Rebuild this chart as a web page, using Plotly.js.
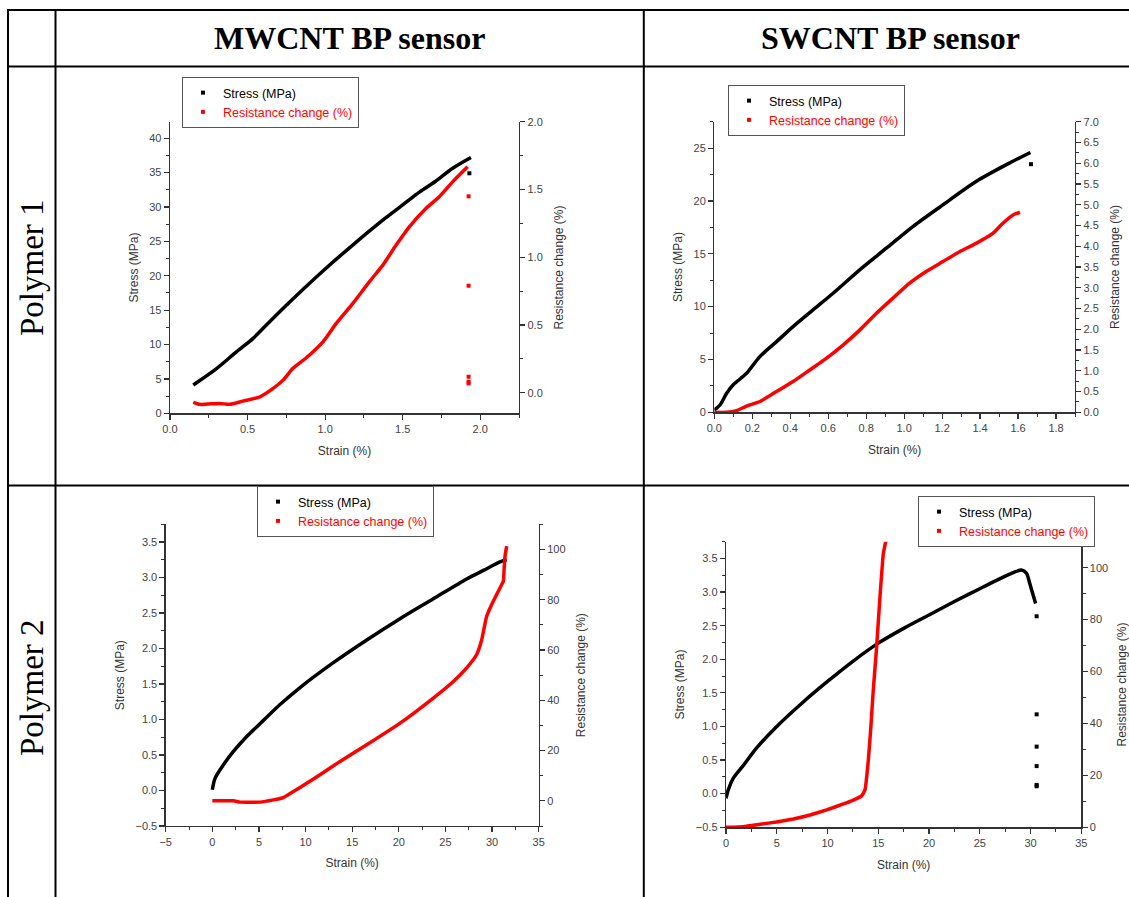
<!DOCTYPE html>
<html><head><meta charset="utf-8">
<script src="https://cdn.plot.ly/plotly-3.0.1.min.js"></script>
<style>html,body{margin:0;padding:0;background:#fff}#chart{width:1129px;height:897px}</style>
</head><body><div id="chart"></div>
<script>
// ---------- Column / row labels ----------
const columnLabels = ['MWCNT BP sensor', 'SWCNT BP sensor'];
const rowLabels = ['Polymer 1', 'Polymer 2'];
const seriesNames = ['Stress (MPa)', 'Resistance change (%)'];

// ---------- Panel 1: MWCNT, Polymer 1 ----------
const p1StressStrain = [0.15,0.30,0.43,0.536,0.62,0.75,0.857,0.986,1.18,1.39,1.50,1.61,1.71,1.82,1.94];
const p1Stress       = [4.12,6.5,8.97,10.9,12.8,15.7,18.0,20.7,24.5,28.4,30.3,32.2,33.7,35.6,37.2];
const p1StressOutStrain = [1.93];
const p1StressOut       = [34.9];
const p1ResStrain = [0.15,0.193,0.32,0.386,0.47,0.58,0.665,0.729,0.793,0.879,0.986,1.072,1.179,1.286,1.372,1.458,1.543,1.65,1.736,1.822,1.919];
const p1Res       = [-0.071,-0.086,-0.079,-0.086,-0.062,-0.03,0.032,0.093,0.18,0.258,0.376,0.512,0.66,0.82,0.942,1.09,1.225,1.36,1.447,1.557,1.668];
const p1ResOutStrain = [1.925,1.925,1.925,1.925,1.925];
const p1ResOut       = [1.45,0.79,0.118,0.081,0.069];

// ---------- Panel 2: SWCNT, Polymer 1 ----------
const p2StressStrain = [0,0.03,0.065,0.1,0.17,0.24,0.328,0.415,0.52,0.626,0.766,0.906,1.046,1.204,1.379,1.554,1.665];
const p2Stress       = [0.22,0.69,1.8,2.6,3.69,5.27,6.69,8.11,9.69,11.27,13.48,15.53,17.58,19.63,21.84,23.58,24.59];
const p2StressOutStrain = [1.668];
const p2StressOut       = [23.48];
const p2ResStrain = [0,0.065,0.117,0.17,0.24,0.328,0.415,0.503,0.59,0.678,0.766,0.853,0.941,1.029,1.116,1.204,1.292,1.379,1.467,1.519,1.572,1.61];
const p2Res       = [0,0,0.04,0.15,0.26,0.5,0.74,1.02,1.3,1.62,1.98,2.38,2.75,3.11,3.39,3.63,3.87,4.07,4.31,4.55,4.75,4.82];

// ---------- Panel 3: MWCNT, Polymer 2 ----------
const p3StressStrain = [0,0.29,1.18,2.26,3.69,5.12,7.26,9.41,12.98,16.56,20.13,23.7,27.28,29.07,30.85,31.57];
const p3Stress       = [0.01,0.17,0.36,0.55,0.76,0.94,1.21,1.45,1.8,2.12,2.42,2.7,2.98,3.1,3.22,3.25];
const p3ResStrain = [0,2.26,2.97,5.12,6.55,7.62,8.69,10.12,11.55,13.7,16.56,20.13,23.7,25.85,27.28,28.35,28.89,29.42,29.96,30.67,31.21,31.28,31.39,31.57];
const p3Res       = [0,0,-0.5,-0.5,0.4,1.33,3.7,7.0,10.4,15.7,22.3,30.9,40.9,47.5,52.9,58.2,64.1,73.4,78.1,83.4,87.4,91.4,97.3,101.3];

// ---------- Panel 4: SWCNT, Polymer 2 ----------
const p4StressStrain = [0,0.23,0.72,1.71,3.02,5,7.5,10,12.5,15,17.5,20,22.5,25,27,28.3,29.1,29.6,29.94,30.27,30.5];
const p4Stress       = [-0.07,0.06,0.23,0.42,0.68,1.0,1.35,1.67,1.97,2.24,2.46,2.66,2.86,3.05,3.2,3.29,3.33,3.28,3.12,2.95,2.83];
const p4StressOutStrain = [30.6,30.6,30.6,30.6,30.6,30.6];
const p4StressOut       = [2.64,1.18,0.70,0.41,0.13,0.11];
const p4ResStrain = [0,1.71,3.35,4.99,6.63,8.27,9.91,11.56,12.54,13.36,13.69,14.02,14.25,14.51,14.84,15.17,15.5,15.76];
const p4Res       = [0,0.26,1.16,2.05,3.2,4.75,6.68,8.99,10.5,12.1,14.4,25.9,37.5,52.9,69.6,88.8,105.5,110.6];

// ---------- Layout helpers ----------
const W = 1129, H = 897;
const px = v => v / W;
const py = v => 1 - v / H;
const FONT = 'Liberation Sans, Arial, sans-serif';
const SERIF = 'Liberation Serif, Times New Roman, serif';
const BLACK = '#000000', RED = '#ff0000';

function axis(extra) {
  return Object.assign({
    showline: true, linecolor: '#333', linewidth: 1.3,
    ticks: 'outside', ticklen: 5, tickwidth: 1.2, tickcolor: '#333',
    showgrid: false, zeroline: false, fixedrange: true,
    tickfont: {family: FONT, size: 11, color: '#444'},
    title: {font: {family: FONT, size: 12, color: '#333'}}
  }, extra);
}
function withMinor(a, d) {
  a.minor = {ticks: 'outside', ticklen: 3, tickwidth: 1, tickcolor: '#333', showgrid: false, dtick: d};
  return a;
}

function lineTrace(x, y, xa, ya, color, smooth) {
  return {x, y, xaxis: xa, yaxis: ya, type: 'scatter', mode: 'lines',
          line: {color, width: 3.5, shape: smooth ? 'spline' : 'linear', smoothing: smooth || 0},
          showlegend: false, hoverinfo: 'skip'};
}
function dotTrace(x, y, xa, ya, color) {
  return {x, y, xaxis: xa, yaxis: ya, type: 'scatter', mode: 'markers',
          marker: {color, symbol: 'square', size: 4}, showlegend: false, hoverinfo: 'skip', cliponaxis: false};
}
function legendTrace(name, color, xa, ya, leg) {
  return {x: [null], y: [null], xaxis: xa, yaxis: ya, type: 'scatter', mode: 'markers',
          marker: {color, symbol: 'square', size: 4}, name, legend: leg, showlegend: true};
}
const redName = '<span style="color:#ff0000">' + seriesNames[1] + '</span>';

const traces = [
  lineTrace(p1StressStrain, p1Stress, 'x', 'y', BLACK, 0.8),
  dotTrace(p1StressOutStrain, p1StressOut, 'x', 'y', BLACK),
  lineTrace(p1ResStrain, p1Res, 'x', 'y2', RED, 0.6),
  dotTrace(p1ResOutStrain, p1ResOut, 'x', 'y2', RED),
  legendTrace(seriesNames[0], BLACK, 'x', 'y', 'legend'),
  legendTrace(redName, RED, 'x', 'y', 'legend'),

  lineTrace(p2StressStrain, p2Stress, 'x2', 'y3', BLACK, 0.8),
  dotTrace(p2StressOutStrain, p2StressOut, 'x2', 'y3', BLACK),
  lineTrace(p2ResStrain, p2Res, 'x2', 'y4', RED, 0.6),
  legendTrace(seriesNames[0], BLACK, 'x2', 'y3', 'legend2'),
  legendTrace(redName, RED, 'x2', 'y3', 'legend2'),

  lineTrace(p3StressStrain, p3Stress, 'x3', 'y5', BLACK, 0.8),
  lineTrace(p3ResStrain, p3Res, 'x3', 'y6', RED, 0.4),
  legendTrace(seriesNames[0], BLACK, 'x3', 'y5', 'legend3'),
  legendTrace(redName, RED, 'x3', 'y5', 'legend3'),

  lineTrace(p4StressStrain, p4Stress, 'x4', 'y7', BLACK, 0.7),
  dotTrace(p4StressOutStrain, p4StressOut, 'x4', 'y7', BLACK),
  lineTrace(p4ResStrain, p4Res, 'x4', 'y8', RED, 0.3),
  legendTrace(seriesNames[0], BLACK, 'x4', 'y7', 'legend4'),
  legendTrace(redName, RED, 'x4', 'y7', 'legend4')
];

function legendBox(x, y) {
  return {x: px(x), y: py(y), xanchor: 'left', yanchor: 'top', bgcolor: '#fff',
          bordercolor: '#555', borderwidth: 1, font: {family: FONT, size: 12.5, color: '#000'},
          tracegroupgap: 0, itemwidth: 30};
}

const strainTitle = 'Strain (%)', stressTitle = 'Stress (MPa)', resTitle = 'Resistance change (%)';

function mk(a, title, standoff) { a.title.text = title; a.title.standoff = standoff; return a; }

const layout = {
  width: W, height: H, margin: {l: 0, r: 0, t: 0, b: 0},
  paper_bgcolor: '#fff', plot_bgcolor: 'rgba(0,0,0,0)',
  showlegend: true,
  legend: legendBox(182, 77),
  legend2: legendBox(728, 85),
  legend3: legendBox(257, 486),
  legend4: legendBox(918, 496),

  // Panel 1
  xaxis: withMinor(mk(axis({domain: [px(170), px(519)], range: [0, 2.25], dtick: 0.5, tick0: 0, tickformat: '.1f', anchor: 'y'}), strainTitle, 12), 0.25),
  yaxis: withMinor(mk(axis({domain: [py(413.3), py(121.7)], range: [0, 42.4], dtick: 5, tick0: 0, anchor: 'x'}), stressTitle, 8), 2.5),
  yaxis2: withMinor(mk(axis({domain: [py(413.3), py(121.7)], range: [-0.152, 2.001], dtick: 0.5, tick0: 0, tickformat: '.1f', anchor: 'x', overlaying: 'y', side: 'right'}), resTitle, 12), 0.25),

  // Panel 2
  xaxis2: withMinor(mk(axis({domain: [px(714.3), px(1075)], range: [0, 1.9], dtick: 0.2, tick0: 0, tickformat: '.1f', anchor: 'y3'}), strainTitle, 12), 0.1),
  yaxis3: withMinor(mk(axis({domain: [py(412.3), py(121.7)], range: [0, 27.5], dtick: 5, tick0: 0, anchor: 'x2'}), stressTitle, 8), 2.5),
  yaxis4: withMinor(mk(axis({domain: [py(412.3), py(121.7)], range: [0, 7.001], dtick: 0.5, tick0: 0, tickformat: '.1f', anchor: 'x2', overlaying: 'y3', side: 'right'}), resTitle, 12), 0.25),

  // Panel 3
  xaxis3: withMinor(mk(axis({domain: [px(165.7), px(538.7)], range: [-5.001, 35.001], dtick: 5, tick0: 0, anchor: 'y5'}), strainTitle, 12), 2.5),
  yaxis5: withMinor(mk(axis({domain: [py(826), py(524.3)], range: [-0.501, 3.75], dtick: 0.5, tick0: 0, tickformat: '.1f', anchor: 'x3'}), stressTitle, 8), 0.25),
  yaxis6: withMinor(mk(axis({domain: [py(826), py(524.3)], range: [-10, 110], dtick: 20, tick0: 0, anchor: 'x3', overlaying: 'y5', side: 'right'}), resTitle, 12), 10),

  // Panel 4
  xaxis4: withMinor(mk(axis({domain: [px(726), px(1081.3)], range: [-0.001, 35.001], dtick: 5, tick0: 0, anchor: 'y7'}), strainTitle, 12), 2.5),
  yaxis7: withMinor(mk(axis({domain: [py(827.3), py(541.7)], range: [-0.501, 3.75], dtick: 0.5, tick0: 0, tickformat: '.1f', anchor: 'x4'}), stressTitle, 8), 0.25),
  yaxis8: withMinor(mk(axis({domain: [py(827.3), py(541.7)], range: [-0.001, 110], dtick: 20, tick0: 0, anchor: 'x4', overlaying: 'y7', side: 'right'}), resTitle, 12), 10),

  shapes: [
    // table grid
    {type: 'line', xref: 'paper', yref: 'paper', x0: px(8), x1: px(1129), y0: py(10), y1: py(10), line: {color: '#000', width: 2}},
    {type: 'line', xref: 'paper', yref: 'paper', x0: px(8), x1: px(1129), y0: py(66.5), y1: py(66.5), line: {color: '#000', width: 2}},
    {type: 'line', xref: 'paper', yref: 'paper', x0: px(8), x1: px(1129), y0: py(485.5), y1: py(485.5), line: {color: '#000', width: 2}},
    {type: 'line', xref: 'paper', yref: 'paper', x0: px(8), x1: px(8), y0: py(9), y1: py(897), line: {color: '#000', width: 2}},
    {type: 'line', xref: 'paper', yref: 'paper', x0: px(55.5), x1: px(55.5), y0: py(9), y1: py(897), line: {color: '#000', width: 2}},
    {type: 'line', xref: 'paper', yref: 'paper', x0: px(643.8), x1: px(643.8), y0: py(9), y1: py(897), line: {color: '#000', width: 2}}
  ],
  annotations: [
    {text: '<b>' + columnLabels[0] + '</b>', xref: 'paper', yref: 'paper', x: px(349), y: py(38), xanchor: 'center', yanchor: 'middle', showarrow: false, font: {family: SERIF, size: 32, color: '#000'}},
    {text: '<b>' + columnLabels[1] + '</b>', xref: 'paper', yref: 'paper', x: px(890), y: py(38), xanchor: 'center', yanchor: 'middle', showarrow: false, font: {family: SERIF, size: 32, color: '#000'}},
    {text: rowLabels[0], xref: 'paper', yref: 'paper', x: px(32), y: py(268), xanchor: 'center', yanchor: 'middle', textangle: -90, showarrow: false, font: {family: SERIF, size: 33, color: '#000'}},
    {text: rowLabels[1], xref: 'paper', yref: 'paper', x: px(32), y: py(688), xanchor: 'center', yanchor: 'middle', textangle: -90, showarrow: false, font: {family: SERIF, size: 33, color: '#000'}}
  ]
};

Plotly.newPlot('chart', traces, layout, {displayModeBar: false, staticPlot: true});
</script>
</body></html>
